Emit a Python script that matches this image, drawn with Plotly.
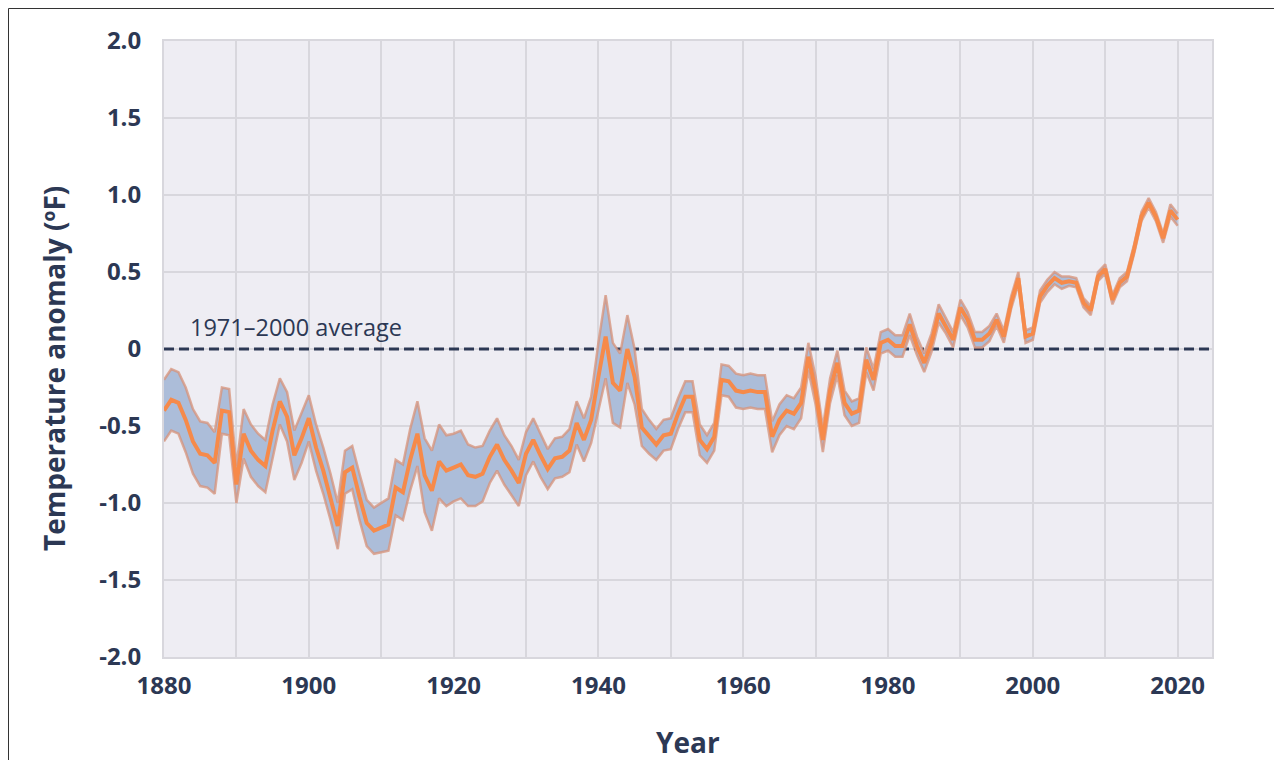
import plotly.graph_objects as go

years = list(range(1880, 2021))

anomaly = [
    -0.40, -0.33, -0.35, -0.46, -0.60, -0.68, -0.69, -0.74, -0.40, -0.41,
    -0.88, -0.55, -0.66, -0.72, -0.76, -0.53, -0.34, -0.44, -0.69, -0.58,
    -0.45, -0.64, -0.79, -0.96, -1.15, -0.80, -0.77, -0.96, -1.13, -1.18,
    -1.16, -1.14, -0.90, -0.93, -0.72, -0.55, -0.82, -0.92, -0.73, -0.79,
    -0.77, -0.75, -0.82, -0.83, -0.81, -0.70, -0.62, -0.72, -0.79, -0.87,
    -0.68, -0.59, -0.69, -0.78, -0.71, -0.70, -0.66, -0.48, -0.59, -0.46,
    -0.18, 0.08, -0.22, -0.27, 0.00, -0.18, -0.51, -0.57, -0.62, -0.56,
    -0.55, -0.42, -0.31, -0.31, -0.59, -0.65, -0.57, -0.20, -0.21, -0.27,
    -0.28, -0.27, -0.28, -0.28, -0.57, -0.46, -0.40, -0.42, -0.35, -0.05,
    -0.27, -0.59, -0.27, -0.09, -0.35, -0.42, -0.40, -0.07, -0.20, 0.04,
    0.06, 0.02, 0.02, 0.16, 0.02, -0.09, 0.04, 0.23, 0.15, 0.06,
    0.27, 0.19, 0.06, 0.06, 0.10, 0.19, 0.08, 0.30, 0.46, 0.08,
    0.10, 0.34, 0.41, 0.46, 0.43, 0.44, 0.43, 0.30, 0.25, 0.47,
    0.52, 0.32, 0.43, 0.47, 0.65, 0.86, 0.95, 0.86, 0.72, 0.90,
    0.84,
]

uncertainty = [
    0.20, 0.20, 0.20, 0.21, 0.21, 0.21, 0.21, 0.20, 0.15, 0.15,
    0.12, 0.16, 0.17, 0.17, 0.17, 0.17, 0.15, 0.16, 0.16, 0.16,
    0.15, 0.15, 0.15, 0.15, 0.15, 0.14, 0.14, 0.15, 0.15, 0.15,
    0.16, 0.17, 0.18, 0.18, 0.20, 0.21, 0.24, 0.26, 0.24, 0.23,
    0.22, 0.22, 0.20, 0.19, 0.18, 0.17, 0.17, 0.16, 0.16, 0.15,
    0.14, 0.14, 0.14, 0.13, 0.13, 0.13, 0.14, 0.14, 0.14, 0.15,
    0.22, 0.27, 0.26, 0.24, 0.22, 0.18, 0.12, 0.11, 0.10, 0.10,
    0.10, 0.10, 0.10, 0.10, 0.10, 0.09, 0.09, 0.10, 0.10, 0.11,
    0.11, 0.11, 0.11, 0.11, 0.10, 0.10, 0.10, 0.10, 0.10, 0.09,
    0.09, 0.08, 0.08, 0.08, 0.08, 0.08, 0.08, 0.08, 0.07, 0.07,
    0.07, 0.07, 0.07, 0.07, 0.06, 0.06, 0.06, 0.06, 0.05, 0.05,
    0.05, 0.05, 0.05, 0.05, 0.05, 0.04, 0.04, 0.04, 0.04, 0.04,
    0.04, 0.04, 0.04, 0.04, 0.04, 0.03, 0.03, 0.03, 0.03, 0.03,
    0.03, 0.03, 0.03, 0.03, 0.03, 0.03, 0.03, 0.03, 0.03, 0.04,
    0.04,
]

x_tick_vals = list(range(1880, 2021, 10))
x_tick_text = ["1880", "", "1900", "", "1920", "", "1940", "", "1960", "", "1980", "", "2000", "", "2020"]
y_tick_vals = [-2.0, -1.5, -1.0, -0.5, 0.0, 0.5, 1.0, 1.5, 2.0]
y_tick_text = ["-2.0", "-1.5", "-1.0", "-0.5", "0", "0.5", "1.0", "1.5", "2.0"]

average_label = "1971\u20132000 average"
x_title = "Year"
y_title = "Temperature anomaly (\u00baF)"

lower = [a - u for a, u in zip(anomaly, uncertainty)]
upper = [a + u for a, u in zip(anomaly, uncertainty)]

NAVY = "#2c3854"
FONT = "Open Sans"
edge = "rgba(215,145,120,0.75)"

# page body has an 8px margin: the figure sits at (8, 8) in the window
W, H = 1282, 760
L, R, T, B = 156, 1204, 33, 649   # plot area in figure pixels
PW, PH = R - L, B - T

fig = go.Figure()
fig.add_trace(go.Scatter(x=years, y=lower, mode="lines",
                         line=dict(color=edge, width=2.5), hoverinfo="skip", showlegend=False))
fig.add_trace(go.Scatter(x=years, y=upper, mode="lines", fill="tonexty",
                         fillcolor="#acbdd9",
                         line=dict(color=edge, width=2.5), hoverinfo="skip", showlegend=False))
fig.add_trace(go.Scatter(x=years, y=anomaly, mode="lines",
                         line=dict(color="#f68a4a", width=4), showlegend=False))

fig.add_shape(type="line", xref="x", yref="y", x0=1880, x1=2024.75, y0=0, y1=0,
              line=dict(color=NAVY, width=3, dash="10px,5px"), layer="between")

fig.add_annotation(x=1883.3, y=0.145, xref="x", yref="y", text=average_label,
                   showarrow=False, xanchor="left", yanchor="middle",
                   font=dict(family=FONT, size=23.5, color=NAVY))
fig.add_annotation(x=(46 - L) / PW, y=(B - 361) / PH, xref="paper", yref="paper", text=y_title,
                   textangle=-90, showarrow=False, xanchor="center", yanchor="middle",
                   font=dict(family=FONT, size=28, color=NAVY, weight="bold"))
fig.add_annotation(x=0.5, y=(B - 734) / PH, xref="paper", yref="paper", text=x_title,
                   showarrow=False, xanchor="center", yanchor="middle",
                   font=dict(family=FONT, size=28, color=NAVY, weight="bold"))

# outer frame
fig.add_shape(type="rect", xref="paper", yref="paper",
              x0=(0.5 - L) / PW, x1=(1269 - L) / PW,
              y0=(B - 780) / PH, y1=(B - 0.5) / PH,
              line=dict(color="#333333", width=1), fillcolor="rgba(0,0,0,0)", layer="above")

fig.update_layout(
    width=W, height=H,
    margin=dict(l=L, r=W - R, t=T, b=H - B),
    paper_bgcolor="white",
    plot_bgcolor="#eeedf3",
    font=dict(family=FONT, color=NAVY),
    xaxis=dict(range=[1880, 2024.75], tickvals=x_tick_vals, ticktext=x_tick_text,
               showgrid=True, gridcolor="#d8d7dd", gridwidth=2, zeroline=False,
               showline=True, linecolor="#d8d7dd", linewidth=2, mirror=True,
               ticks="outside", ticklen=6, tickcolor="rgba(0,0,0,0)",
               tickfont=dict(family=FONT, size=24, color=NAVY, weight="bold")),
    yaxis=dict(range=[-2.0, 2.0], tickvals=y_tick_vals, ticktext=y_tick_text,
               showgrid=True, gridcolor="#d8d7dd", gridwidth=2, zeroline=False,
               showline=True, linecolor="#d8d7dd", linewidth=2, mirror=True,
               ticks="outside", ticklen=16, tickcolor="rgba(0,0,0,0)",
               tickfont=dict(family=FONT, size=24, color=NAVY, weight="bold")),
)

fig.write_html("out.html")
